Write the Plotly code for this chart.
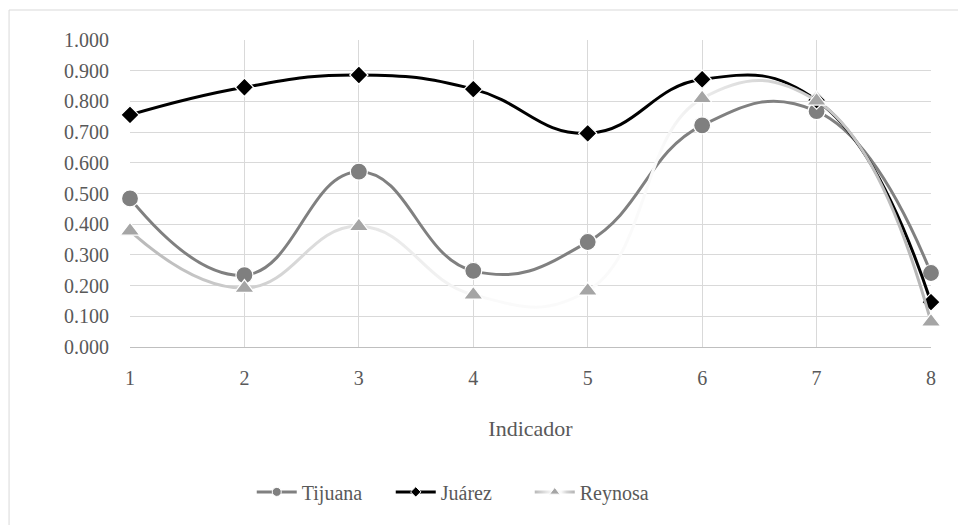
import plotly.graph_objects as go

# Indicator index on the x axis
indicators = [1, 2, 3, 4, 5, 6, 7, 8]

# Index value per city
tijuana = [0.484, 0.234, 0.571, 0.248, 0.342, 0.722, 0.768, 0.241]
juarez = [0.756, 0.846, 0.886, 0.840, 0.696, 0.872, 0.804, 0.146]
reynosa = [0.378, 0.192, 0.393, 0.170, 0.183, 0.810, 0.802, 0.082]

y_ticks = [i / 10 for i in range(11)]

FONT = "'Liberation Serif', 'Times New Roman', Times, serif"
TXT = "#595959"
GRID = "#d9d9d9"

fig = go.Figure()

series = [
    ("Tijuana", tijuana, "#808080", "circle", 17, "#7f7f7f", 9),
    ("Juárez", juarez, "#000000", "diamond", 14, "#000000", 8),
    ("Reynosa", reynosa, "#c8c8c8", "triangle-up", 17, "#a5a5a5", 9),
]

for name, vals, lc, sym, size, mc, lsize in series:
    fig.add_trace(go.Scatter(
        x=indicators, y=vals, name=name, mode="lines+markers",
        line=dict(color=lc, width=3, shape="spline", smoothing=1.3),
        marker=dict(symbol=sym, size=size, color=mc,
                    line=dict(color="white", width=1.2)),
        cliponaxis=False, showlegend=False,
    ))

# Legend entries with smaller symbols
for name, vals, lc, sym, size, mc, lsize in series:
    fig.add_trace(go.Scatter(
        x=[None], y=[None], name=name, mode="lines+markers",
        line=dict(color=lc, width=3),
        marker=dict(symbol=sym, size=lsize, color=mc,
                    line=dict(color="white", width=1)),
        showlegend=True,
    ))

fig.update_layout(
    width=958, height=525,
    margin=dict(l=130, r=27, t=40, b=178),
    paper_bgcolor="white", plot_bgcolor="white",
    font=dict(family=FONT, color=TXT, size=20),
    xaxis=dict(
        range=[1, 8], tickvals=indicators, ticktext=[str(v) for v in indicators],
        showgrid=True, gridcolor=GRID, gridwidth=1,
        showline=True, linecolor="#bfbfbf", linewidth=1,
        zeroline=False, ticks="", ticklabelstandoff=13,
        tickfont=dict(family=FONT, size=20, color=TXT),
        title=dict(text="Indicador", font=dict(family=FONT, size=22, color=TXT),
                   standoff=32),
    ),
    yaxis=dict(
        range=[0, 1], tickvals=y_ticks, tickformat=".3f",
        showgrid=True, gridcolor=GRID, gridwidth=1,
        showline=False, zeroline=False, ticks="", ticklabelstandoff=20,
        tickfont=dict(family=FONT, size=20, color=TXT),
    ),
    legend=dict(
        orientation="h", x=0.152, xanchor="left", y=-0.472, yanchor="middle",
        font=dict(family=FONT, size=20, color=TXT),
        bgcolor="rgba(0,0,0,0)", itemwidth=40, tracegroupgap=0,
        entrywidth=84, entrywidthmode="pixels",
    ),
    shapes=[dict(
        type="rect", xref="paper", yref="paper",
        x0=-0.151, x1=1.04, y0=-0.6, y1=1.0977,
        line=dict(color=GRID, width=1), fillcolor="rgba(0,0,0,0)", layer="below",
    )],
)

# Grey-white-grey gradient stroke for the Reynosa line (plot and legend)
post_js = """
(function(){
  var gd = document.getElementById('{plot_id}');
  var NS = 'http://www.w3.org/2000/svg';
  var stops = [[0,'#b8b8b8'],[0.3,'#e6e6e6'],[0.45,'#fafafa'],
               [0.66,'#fafafa'],[0.8,'#d4d4d4'],[1,'#b4b4b4']];
  function grad(id, x1, x2){
    var defs = gd.querySelector('.main-svg defs');
    var g = document.getElementById(id);
    if(!g){
      g = document.createElementNS(NS, 'linearGradient');
      g.setAttribute('id', id);
      g.setAttribute('gradientUnits', 'userSpaceOnUse');
      stops.forEach(function(s){
        var st = document.createElementNS(NS, 'stop');
        st.setAttribute('offset', s[0]);
        st.setAttribute('stop-color', s[1]);
        g.appendChild(st);
      });
      defs.appendChild(g);
    }
    g.setAttribute('x1', x1); g.setAttribute('x2', x2);
    g.setAttribute('y1', 0); g.setAttribute('y2', 0);
  }
  function paint(){
    var tr = gd.querySelectorAll('.scatterlayer .trace')[2];
    var p = tr && tr.querySelector('path.js-line');
    if(p){
      var b = p.getBBox();
      grad('reyGradPlot', b.x, b.x + b.width);
      p.style.stroke = 'url(#reyGradPlot)';
    }
    var lt = gd.querySelectorAll('.legend .traces')[2];
    var lp = lt && lt.querySelector('path.js-line');
    if(lp){
      var lb = lp.getBBox();
      grad('reyGradLegend', lb.x, lb.x + lb.width);
      lp.style.stroke = 'url(#reyGradLegend)';
    }
  }
  paint();
  if(gd.on){ gd.on('plotly_afterplot', paint); }
})();
"""

fig.write_html("out.html", post_script=post_js)
